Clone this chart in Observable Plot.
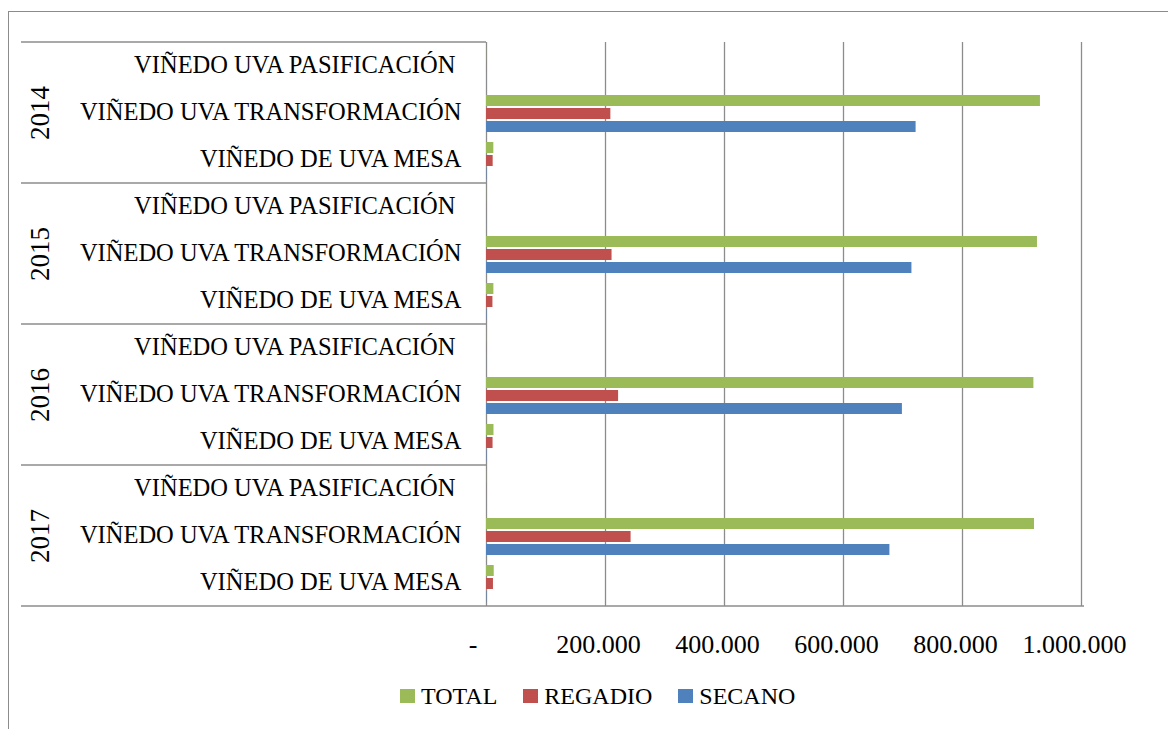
<!DOCTYPE html>
<html><head><meta charset="utf-8">
<script src="https://cdn.jsdelivr.net/npm/d3@7"></script>
<script src="https://cdn.jsdelivr.net/npm/@observablehq/plot@0.6"></script>
<style>
body{margin:0;background:#fff;}
#wrap{position:relative;width:1168px;height:729px;overflow:hidden;font-family:'Liberation Serif',serif;}
#chart{position:absolute;left:0;top:0;}
#chart svg text{white-space:pre;}
#border{position:absolute;left:8px;top:11px;width:1200px;height:800px;border-left:1.5px solid #8c8c8c;border-top:1.5px solid #8c8c8c;pointer-events:none;}
#legend{position:absolute;left:400px;top:682px;display:flex;align-items:center;font-family:'Liberation Serif',serif;font-size:24px;color:#000;line-height:28px;}
#legend span{font-family:'Liberation Serif',serif;}
.item{display:flex;align-items:center;margin-right:26px;}
.sw{width:15px;height:14px;margin-right:6px;}
</style></head><body>
<div id="wrap"><div id="chart"></div><div id="legend"></div><div id="border"></div></div>
<script>
// ---- data ----
const years = ["2014", "2015", "2016", "2017"];
const categories = ["VIÑEDO UVA PASIFICACIÓN ", "VIÑEDO UVA TRANSFORMACIÓN", "VIÑEDO DE UVA MESA"];
const series = ["TOTAL", "REGADIO", "SECANO"];
const colors = ["#9BBB59", "#C0504D", "#4F81BD"];
const xTicks = [0, 200000, 400000, 600000, 800000, 1000000];

// values by year (2014..2017)
const totalPasificacion   = [200, 200, 200, 200];
const regadioPasificacion = [100, 100, 100, 100];
const secanoPasificacion  = [100, 100, 100, 100];
const totalTransformacion   = [931000, 926000, 920000, 921000];
const regadioTransformacion = [209000, 211000, 222000, 243000];
const secanoTransformacion  = [722000, 715000, 699000, 678000];
const totalMesa   = [12300, 12400, 12600, 13000];
const regadioMesa = [11200, 10800, 11000, 11700];
const secanoMesa  = [600, 600, 600, 600];

const lookup = {
  TOTAL:   [totalPasificacion, totalTransformacion, totalMesa],
  REGADIO: [regadioPasificacion, regadioTransformacion, regadioMesa],
  SECANO:  [secanoPasificacion, secanoTransformacion, secanoMesa]
};

const keys = [];
const rows = [];
const catRows = [];
const yearRows = [];
years.forEach((yr, i) => {
  categories.forEach((cat, j) => {
    const key = yr + "|" + cat;
    keys.push(key);
    catRows.push({key, cat});
    series.forEach(s => rows.push({key, series: s, value: lookup[s][j][i]}));
  });
  yearRows.push({key: yr + "|" + categories[1], year: yr});
});

const fmt = d => d === 0 ? "-\u2007" : d3.format(",")(d).replace(/,/g, ".");

const chart = Plot.plot({
  width: 1168,
  height: 672,
  marginLeft: 486,
  marginRight: 87,
  marginTop: 40,
  marginBottom: 65,
  style: {fontFamily: "'Liberation Serif', serif", fontSize: "24px", color: "#000", background: "transparent"},
  x: {domain: [0, 1000000], axis: null, label: null},
  y: {domain: series, axis: null, paddingInner: 0.17, paddingOuter: 0.36, align: 0.6},
  fy: {domain: keys, axis: null, padding: 0},
  color: {domain: series, range: colors},
  marks: [
    Plot.ruleX(xTicks, {stroke: "#8c8c8c", strokeWidth: 1.3}),
    Plot.barX(rows, {fy: "key", y: "series", x: "value", fill: "series"}),
    Plot.text(catRows, {fy: "key", text: "cat", frameAnchor: "left", textAnchor: "end", dx: -25, dy: -1, fontSize: 24.5}),
    Plot.text(yearRows, {fy: "key", text: "year", frameAnchor: "left", textAnchor: "middle", rotate: -90, dx: -446, fontSize: 27}),
    Plot.axisX({ticks: xTicks, tickFormat: fmt, tickSize: 0, tickPadding: 28, fontSize: 26, dx: -7, label: null})
  ]
});
document.getElementById("chart").appendChild(chart);

// separator lines of the category table, positioned with Plot's own scales
const fyS = chart.scale("fy");
const xS = chart.scale("x");
const svg = d3.select(chart);
const g = svg.append("g").attr("stroke", "#8c8c8c").attr("stroke-width", 1.3);
years.forEach(yr => {
  const y0 = fyS.apply(yr + "|" + categories[0]);
  g.append("line").attr("x1", 21).attr("x2", xS.apply(0)).attr("y1", y0).attr("y2", y0);
});
const yb = fyS.apply(keys[keys.length - 1]) + fyS.bandwidth;
g.append("line").attr("x1", 21).attr("x2", xS.apply(1000000) + 3).attr("y1", yb).attr("y2", yb);

// legend
const leg = d3.select("#legend");
series.forEach((s, i) => {
  const it = leg.append("div").attr("class", "item");
  it.append("div").attr("class", "sw").style("background", colors[i]);
  it.append("span").text(s);
});
</script>
</body></html>
